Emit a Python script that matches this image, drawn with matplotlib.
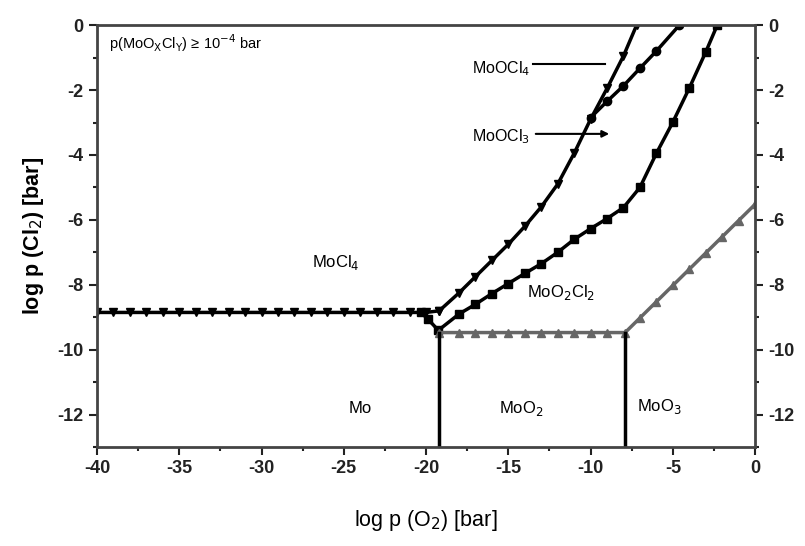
import matplotlib
matplotlib.use("Agg")
import matplotlib.pyplot as plt
from matplotlib.ticker import MultipleLocator

plt.rcParams['font.family'] = ['Liberation Sans', 'DejaVu Sans']
plt.rcParams['axes.unicode_minus'] = False

# MoCl4 / MoOCl4 boundary (down triangles)
mocl4_x = [-40, -39, -38, -37, -36, -35, -34, -33, -32, -31, -30, -29, -28, -27,
           -26, -25, -24, -23, -22, -21, -20, -19.2]
mocl4_y = [-8.85] * 21 + [-8.8]
moocl4_x = [-19.2, -18, -17, -16, -15, -14, -13, -12, -11, -10, -9, -8, -7.2]
moocl4_y = [-8.8, -8.25, -7.75, -7.25, -6.75, -6.2, -5.6, -4.9, -3.95, -2.9, -1.95, -0.95, 0.0]

# MoOCl3 boundary (circles)
moocl3_x = [-10, -9, -8, -7, -6, -4.6]
moocl3_y = [-2.85, -2.35, -1.87, -1.33, -0.8, 0.0]

# MoO2Cl2 boundary (squares)
moo2cl2_x = [-20.3, -19.9, -19.25, -18, -17, -16, -15, -14, -13, -12, -11, -10,
             -9, -8, -7, -6, -5, -4, -3, -2.3]
moo2cl2_y = [-8.85, -9.05, -9.4, -8.9, -8.6, -8.27, -7.96, -7.65, -7.35, -7.0,
             -6.6, -6.27, -5.96, -5.62, -5.0, -3.95, -2.99, -1.94, -0.83, 0.0]

# solid phase boundary (grey, up triangles)
oxide_x = [-19.2, -18, -17, -16, -15, -14, -13, -12, -11, -10, -9, -7.9,
           -7, -6, -5, -4, -3, -2, -1, 0]
oxide_y = [-9.47] * 12 + [-9.02, -8.52, -8.02, -7.52, -7.02, -6.52, -6.02, -5.52]

# vertical phase borders Mo|MoO2 and MoO2|MoO3
borders_x = [-19.2, -7.9]

fig = plt.figure(figsize=(8.05, 5.46), dpi=100)
ax = fig.add_axes([0.1205, 0.181, 0.8175, 0.773])

ax.plot(mocl4_x, mocl4_y, color='black', lw=2.5, marker='v', ms=6)
ax.plot(moocl4_x, moocl4_y, color='black', lw=2.5, marker='v', ms=6)
ax.plot(moocl3_x, moocl3_y, color='black', lw=2.5, marker='o', ms=6)
ax.plot(moo2cl2_x, moo2cl2_y, color='black', lw=2.5, marker='s', ms=6)
ax.plot(oxide_x, oxide_y, color='#666666', lw=2.5, marker='^', ms=6)
for bx in borders_x:
    ax.plot([bx, bx], [-9.47, -13], color='black', lw=2.5)

ax.set_xlim(-40, 0)
ax.set_ylim(-13, 0)
ax.xaxis.set_major_locator(MultipleLocator(5))
ax.xaxis.set_minor_locator(MultipleLocator(2.5))
ax.yaxis.set_major_locator(MultipleLocator(2))
ax.yaxis.set_minor_locator(MultipleLocator(1))
ax.tick_params(which='both', direction='out', left=True, right=True,
               labelright=True, top=False, colors='#222222', width=1.5)
ax.tick_params(which='major', length=6, labelsize=13)
ax.tick_params(which='minor', length=3)
for lab in ax.get_xticklabels() + ax.get_yticklabels():
    lab.set_fontweight('bold')
for lab in ax.yaxis.get_ticklabels(which='both'):
    lab.set_fontweight('bold')
for sp in ax.spines.values():
    sp.set_color('#444444')
    sp.set_linewidth(2)

ax.set_xlabel('log p (O$_2$) [bar]', fontsize=15.5, labelpad=22)
ax.set_ylabel('log p (Cl$_2$) [bar]', fontsize=15.5, fontweight='bold', labelpad=8)

ax.text(-39.3, -0.55, r'p(MoO$_\mathrm{X}$Cl$_\mathrm{Y}$) ≥ 10$^{-4}$ bar',
        fontsize=10.5, va='center')
ax.text(-17.2, -1.33, 'MoOCl$_4$', fontsize=11.5, va='center')
ax.plot([-13.5, -9.1], [-1.2, -1.2], color='black', lw=1.5)
ax.text(-17.2, -3.45, 'MoOCl$_3$', fontsize=11.5, va='center')
ax.annotate('', xy=(-8.7, -3.35), xytext=(-13.5, -3.35),
            arrowprops=dict(arrowstyle='-|>', color='black', lw=1.5))
ax.text(-25.5, -7.3, 'MoCl$_4$', fontsize=12, ha='center', va='center')
ax.text(-11.8, -8.25, 'MoO$_2$Cl$_2$', fontsize=12, ha='center', va='center')
ax.text(-24.0, -11.8, 'Mo', fontsize=12, ha='center', va='center')
ax.text(-14.2, -11.8, 'MoO$_2$', fontsize=12, ha='center', va='center')
ax.text(-5.8, -11.75, 'MoO$_3$', fontsize=12, ha='center', va='center')

fig.savefig('out.png', dpi=100)
